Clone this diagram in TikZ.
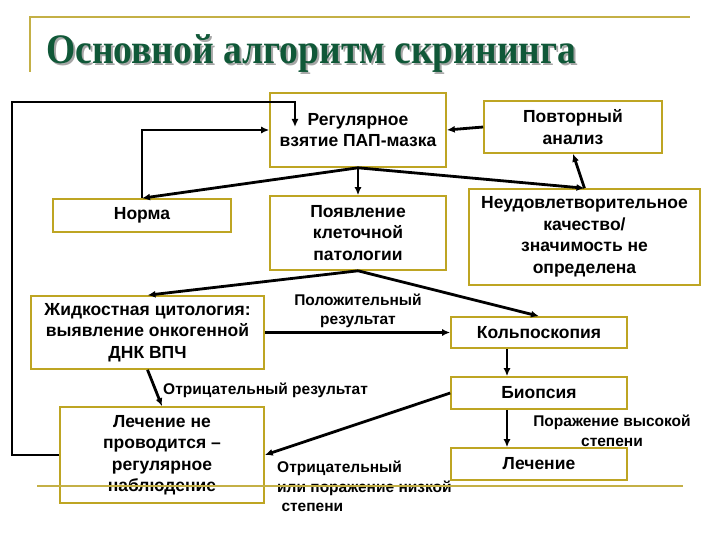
\documentclass[tikz,border=0pt]{standalone}
\usepackage{fontspec}
\usepackage{graphicx}
\setmainfont{Liberation Sans}
\newfontfamily\titlefont{Liberation Serif}
\usetikzlibrary{arrows.meta,calc}
\definecolor{boxc}{RGB}{190,165,35}
\definecolor{framec}{RGB}{196,176,70}
\definecolor{titlec}{RGB}{16,88,56}
\newcommand{\titletext}{Основной алгоритм скрининга}
\begin{document}
\begin{tikzpicture}[x=1pt,y=-1pt,
  box/.style={draw=boxc, line width=1.6pt, fill=white, align=center, inner sep=0pt,
    font=\bfseries\fontsize{17.5}{21.5}\selectfont},
  lbl/.style={font=\bfseries\fontsize{15.5}{19.5}\selectfont, inner sep=0pt},
  conn/.style={line width=2.8pt, -{Latex[length=8pt,width=7pt]}},
  frame/.style={draw=framec, line width=1.6pt}]
\useasboundingbox[fill=white] (0,0) rectangle (720,540);
% title
\draw[frame] (30,72) -- (30,17) -- (690,17);
\node[anchor=base west, inner sep=0pt, font=\titlefont\bfseries\fontsize{42}{42}\selectfont] (title) at (46,64)
  {\makebox[0pt][l]{\hspace{2pt}\raisebox{-2pt}{\textcolor{black!35}{\scalebox{0.895}[1]{\titletext}}}}\textcolor{titlec}{\scalebox{0.895}[1]{\titletext}}};
% boxes
\node[box, minimum width=176pt, minimum height=74pt] (reg) at (358,130) {Регулярное\\взятие ПАП-мазка};
\node[box, minimum width=178pt, minimum height=52pt] (rep) at (573,127) {Повторный\\анализ};
\node[box, minimum width=178pt, minimum height=33pt] (norm) at (142,215.5) {Норма};
\node[box, minimum width=176pt, minimum height=74pt] (pat) at (358,233) {Появление\\клеточной\\патологии};
\node[box, minimum width=231pt, minimum height=96pt] (unsat) at (584.5,237) {Неудовлетворительное\\качество/\\значимость не\\определена};
\node[box, minimum width=233pt, minimum height=73pt] (liq) at (147.5,332.5) {Жидкостная цитология:\\выявление онкогенной\\ДНК ВПЧ};
\node[box, minimum width=176pt, minimum height=31pt] (colp) at (539,332.5) {Кольпоскопия};
\node[box, minimum width=176pt, minimum height=32pt] (biop) at (539,393) {Биопсия};
\node[box, minimum width=204pt, minimum height=96pt] (notr) at (162,455) {Лечение не\\проводится –\\регулярное\\наблюдение};
\node[box, minimum width=176pt, minimum height=32pt] (treat) at (539,464) {Лечение};
% labels
\node[lbl, align=center] (lpos) at (358,311) {Положительный\\результат};
\node[lbl, anchor=west] (lneg) at (163,390) {Отрицательный результат};
\node[lbl, align=center] (lhigh) at (612,431) {Поражение высокой\\степени};
\node[lbl, align=left, anchor=north west] (llow) at (277,461) {Отрицательный\\или поражение низкой\\\ степени};
% connectors
\coordinate (regin) at (295,127);
\draw[conn] (notr.west) -- (12,455) -- (12,102) -- (295,102) -- (regin);
\draw[conn] (norm.north) |- (reg.west);
\draw[conn] (reg.south) -- (norm.north);
\draw[conn] (reg.south) -- (pat.north);
\draw[conn] (reg.south) -- (unsat.north);
\draw[conn] (unsat.north) -- (rep.south);
\draw[conn] (rep.west) -- (reg.east);
\draw[conn] (pat.south) -- (liq.north);
\draw[conn] (pat.south) -- (colp.north);
\draw[conn] (liq.east) -- (colp.west);
\draw[conn] (liq.south) -- (notr.north);
\draw[conn] ([xshift=-32pt]colp.south) -- ([xshift=-32pt]biop.north);
\draw[conn] (biop.west) -- (notr.east);
\draw[conn] ([xshift=-32pt]biop.south) -- ([xshift=-32pt]treat.north);
% bottom frame line
\draw[frame] (37,486) -- (683,486);
\end{tikzpicture}
\end{document}
